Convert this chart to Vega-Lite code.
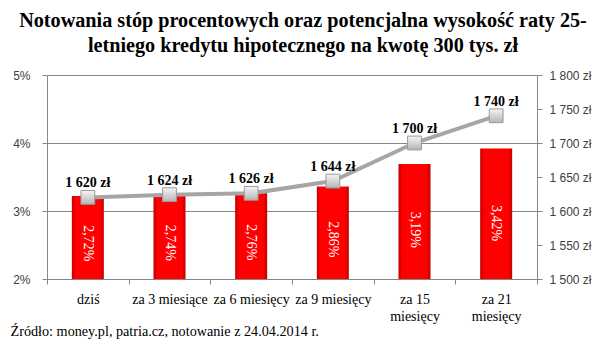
{
  "$schema": "https://vega.github.io/schema/vega-lite/v6.json",
  "width": 490,
  "height": 204,
  "autosize": {"type": "none"},
  "padding": {"left": 47, "top": 75, "right": 68, "bottom": 67},
  "background": "white",
  "config": {
    "view": {"stroke": null},
    "locale": {
      "number": {"decimal": ",", "thousands": " ", "grouping": [3], "currency": ["", " zł"]}
    }
  },
  "title": {
    "text": ["Notowania stóp procentowych oraz potencjalna wysokość raty 25-", "letniego kredytu hipotecznego na kwotę 300 tys. zł"],
    "font": "Liberation Serif",
    "fontSize": 20.2,
    "fontWeight": "bold",
    "color": "#000000",
    "anchor": "middle",
    "frame": "group",
    "dx": 11,
    "offset": 13,
    "lineHeight": 25
  },
  "data": {
    "values": [
      {"cat": "dziś", "rate": "2,72%", "bar": 3.22, "payment": 1620},
      {"cat": "za 3 miesiące", "rate": "2,74%", "bar": 3.24, "payment": 1624},
      {"cat": "za 6 miesięcy", "rate": "2,76%", "bar": 3.26, "payment": 1626},
      {"cat": "za 9 miesięcy", "rate": "2,86%", "bar": 3.36, "payment": 1644},
      {"cat": "za 15 miesięcy", "rate": "3,19%", "bar": 3.69, "payment": 1700},
      {"cat": "za 21 miesięcy", "rate": "3,42%", "bar": 3.92, "payment": 1740}
    ]
  },
  "encoding": {
    "x": {
      "field": "cat",
      "type": "nominal",
      "sort": null,
      "scale": {"paddingInner": 0, "paddingOuter": 0},
      "axis": {
        "labelAngle": 0,
        "labelFont": "Liberation Serif",
        "labelFontSize": 14,
        "labelColor": "#000000",
        "labelPadding": 8,
        "labelLineHeight": 17,
        "labelBaseline": "top",
        "labelExpr": "test(regexp('^za \\\\d\\\\d '), datum.label) ? [substring(datum.label, 0, 5), substring(datum.label, 6)] : datum.label",
        "tickBand": "extent",
        "tickSize": 5,
        "tickColor": "#868686",
        "domainColor": "#868686",
        "title": "Źródło: money.pl, patria.cz, notowanie z 24.04.2014 r.",
        "titleFont": "Liberation Serif",
        "titleFontSize": 14.2,
        "titleFontWeight": "normal",
        "titleColor": "#000000",
        "titleX": -37,
        "titleY": 56,
        "titleAlign": "left",
        "titleBaseline": "alphabetic",
        "titleAnchor": null
      }
    }
  },
  "layer": [
    {
      "mark": {
        "type": "bar",
        "size": 32,
        "fill": {
          "gradient": "linear",
          "x1": 0, "x2": 1, "y1": 0, "y2": 0,
          "stops": [
            {"offset": 0, "color": "#c00000"},
            {"offset": 0.12, "color": "#ff0000"},
            {"offset": 0.88, "color": "#ff0000"},
            {"offset": 1, "color": "#c00000"}
          ]
        }
      },
      "encoding": {
        "y": {
          "field": "bar",
          "type": "quantitative",
          "scale": {"domain": [2, 5], "zero": false, "nice": false},
          "axis": {
            "title": null,
            "values": [2, 3, 4, 5],
            "labelExpr": "datum.value + '%'",
            "labelFont": "Liberation Sans",
            "labelFontSize": 12,
            "labelColor": "#404040",
            "labelPadding": 12,
            "tickSize": 5,
            "tickColor": "#868686",
            "domainColor": "#868686",
            "grid": true,
            "gridColor": "#868686"
          }
        },
        "y2": {"datum": 2}
      }
    },
    {
      "mark": {"type": "text", "angle": 90, "color": "white", "font": "Liberation Serif", "fontSize": 14, "align": "center", "baseline": "middle"},
      "encoding": {
        "y": {"field": "bar", "type": "quantitative", "scale": {"domain": [2, 9], "zero": false, "nice": false}, "axis": null},
        "text": {"field": "rate"}
      }
    },
    {
      "encoding": {
        "y": {
          "field": "payment",
          "type": "quantitative",
          "scale": {"domain": [1500, 1800], "zero": false, "nice": false},
          "axis": {
            "orient": "right",
            "title": null,
            "values": [1500, 1550, 1600, 1650, 1700, 1750, 1800],
            "format": "$,d",
            "labelFont": "Liberation Sans",
            "labelFontSize": 12,
            "labelColor": "#404040",
            "labelPadding": 7,
            "tickSize": 5,
            "tickColor": "#868686",
            "domainColor": "#868686",
            "grid": false
          }
        }
      },
      "layer": [
        {"mark": {"type": "line", "color": "#a6a6a6", "strokeWidth": 4}},
        {
          "mark": {
            "type": "point",
            "shape": "square",
            "filled": true,
            "size": 190,
            "fill": {
              "gradient": "linear",
              "x1": 0, "x2": 0, "y1": 0, "y2": 1,
              "stops": [{"offset": 0, "color": "#f5f5f5"}, {"offset": 1, "color": "#b5b5b5"}]
            },
            "stroke": "#9a9a9a",
            "strokeWidth": 1,
            "opacity": 1
          }
        },
        {
          "mark": {"type": "text", "font": "Liberation Serif", "fontSize": 14, "fontWeight": "bold", "color": "#000000", "baseline": "alphabetic", "dy": -10},
          "encoding": {"text": {"field": "payment", "type": "quantitative", "format": "$,d"}}
        }
      ]
    }
  ],
  "resolve": {"scale": {"y": "independent"}}
}
